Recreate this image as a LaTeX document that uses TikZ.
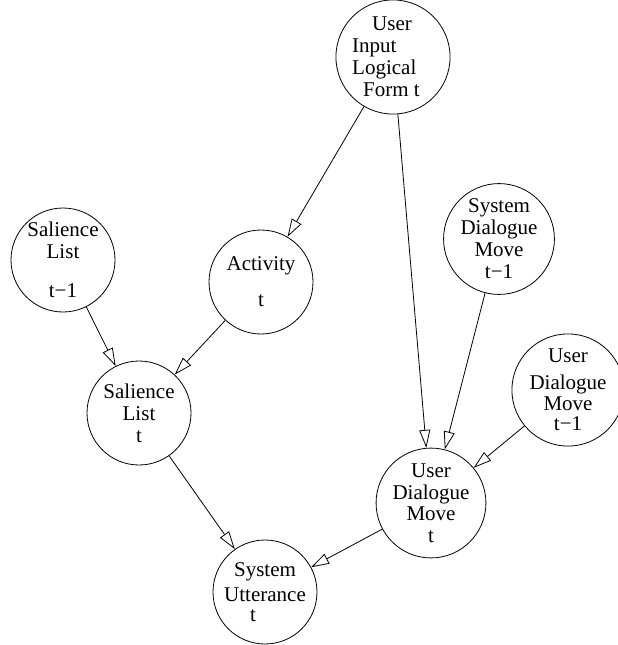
\documentclass[tikz,border=0pt]{standalone}
\usepackage{fontspec}
\setmainfont{Liberation Serif}
\usepackage{tikz}
\usetikzlibrary{automata,arrows.meta}

\begin{document}
\begin{tikzpicture}[x=1pt,y=-1pt,>={Triangle[open,length=18pt,width=11pt]}]
        \tikzstyle{every state}=[draw=black,line width=0.8pt,minimum size=104pt,inner sep=0pt,
            align=center,font=\fontsize{21}{22}\selectfont]
        \useasboundingbox (0,0) rectangle (618,645);
        \node[state,align=left] (UIn) at (393,57) {\hspace*{20pt}User\\Input\\Logical\\\hspace*{11pt}Form t\hspace*{14pt}};
        \node[state] (SLp) at (63,260) {Salience\\List\\[17pt]t−1};
        \node[state] (Act) at (261,282) {Activity\\[14pt]t};
        \node[state] (SDMp) at (499,239) {System\\Dialogue\\Move\\t−1};
        \node[state,minimum size=100pt] (UDMp) at (568,390) {User\\[5pt]Dialogue\\[-1pt]Move\\[-2pt]t−1};
        \node[state] (SLt) at (139,413) {Salience\\List\\t};
        \node[state] (UDMt) at (431,503) {User\\Dialogue\\[-1pt]Move\\t};
        \node[state] (SUt) at (265,592) {System\\[3pt]Utterance\\[-2pt]t\hspace*{24pt}};
        \path[->,line width=0.8pt]
        (UIn) edge (Act)
              edge (UDMt)
        (SDMp) edge (UDMt)
        (UDMp) edge (UDMt)
        (SLp) edge (SLt)
        (Act) edge (SLt)
        (SLt) edge (SUt)
        (UDMt) edge (SUt);
    \end{tikzpicture}
\end{document}
